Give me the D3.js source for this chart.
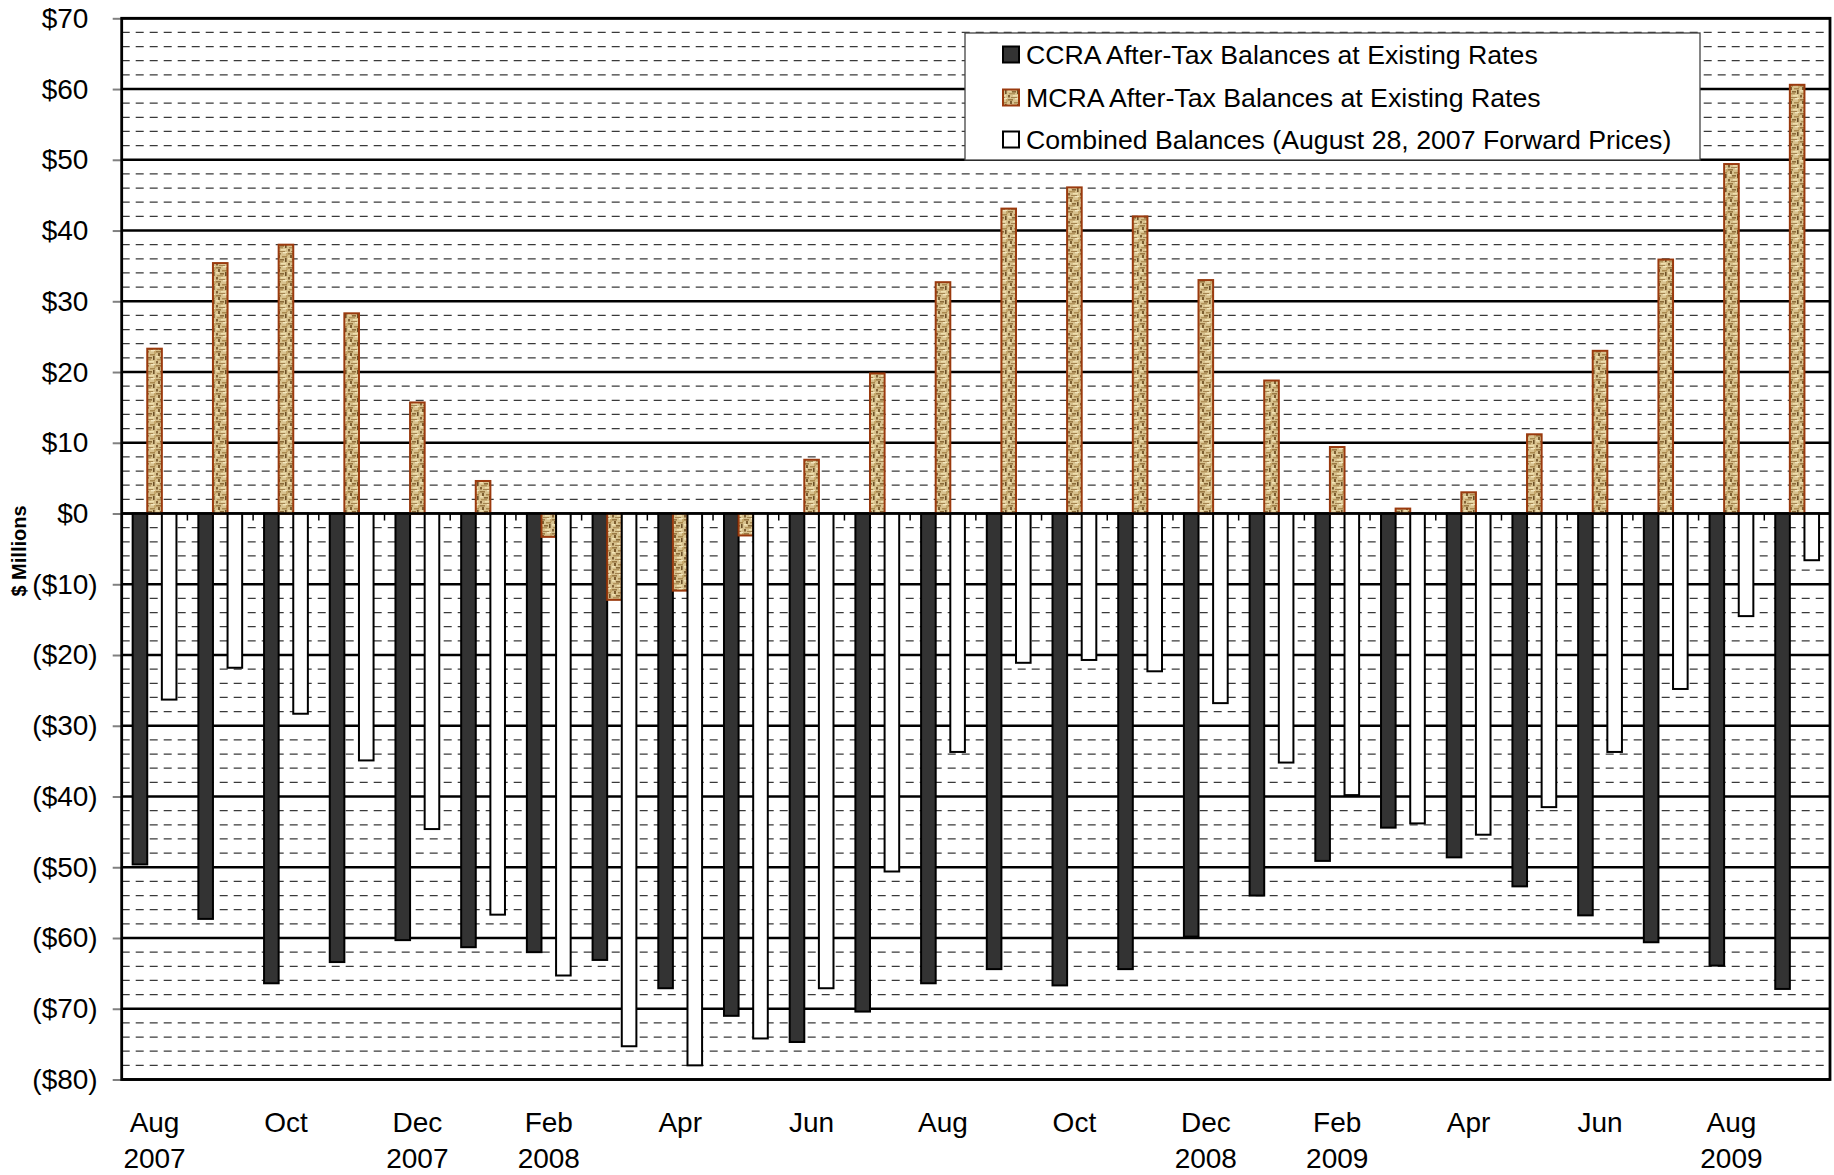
<!DOCTYPE html>
<html>
<head>
<meta charset="utf-8">
<script src="https://cdn.jsdelivr.net/npm/d3@7"></script>
<style>
  html, body { margin: 0; padding: 0; background: #fff; }
  svg { display: block; font-family: "Liberation Sans", Arial, sans-serif; }
</style>
</head>
<body>
<svg id="chart" width="1834" height="1175"></svg>
<script>
// ---- Data ----
const categories = ["Aug 2007","Sep 2007","Oct 2007","Nov 2007","Dec 2007","Jan 2008","Feb 2008","Mar 2008","Apr 2008","May 2008","Jun 2008","Jul 2008","Aug 2008","Sep 2008","Oct 2008","Nov 2008","Dec 2008","Jan 2009","Feb 2009","Mar 2009","Apr 2009","May 2009","Jun 2009","Jul 2009","Aug 2009","Sep 2009"];
const tickLine1 = ["Aug","","Oct","","Dec","","Feb","","Apr","","Jun","","Aug","","Oct","","Dec","","Feb","","Apr","","Jun","","Aug",""];
const tickLine2 = ["2007","","","","2007","","2008","","","","","","","","","","2008","","2009","","","","","","2009",""];
const seriesNames = ["CCRA After-Tax Balances at Existing Rates","MCRA After-Tax Balances at Existing Rates","Combined Balances (August 28, 2007 Forward Prices)"];
const ccra = [-49.6,-57.3,-66.4,-63.4,-60.3,-61.3,-62.0,-63.1,-67.1,-71.0,-74.7,-70.4,-66.4,-64.4,-66.7,-64.4,-59.8,-54.0,-49.1,-44.4,-48.6,-52.7,-56.8,-60.6,-63.9,-67.2];
const mcra = [23.3,35.4,38.0,28.3,15.7,4.6,-3.3,-12.2,-10.9,-3.1,7.6,19.8,32.7,43.1,46.1,42.0,33.0,18.8,9.4,0.7,3.0,11.2,23.0,35.9,49.4,60.6];
const combined = [-26.3,-21.8,-28.3,-34.9,-44.6,-56.7,-65.3,-75.3,-78.0,-74.2,-67.1,-50.6,-33.7,-21.1,-20.7,-22.3,-26.8,-35.2,-39.8,-43.8,-45.4,-41.5,-33.7,-24.8,-14.5,-6.6];
const yMajorTicks = [-80,-70,-60,-50,-40,-30,-20,-10,0,10,20,30,40,50,60,70];
const yMinorTicks = d3.range(-78, 70, 2).filter(v => v % 10 !== 0);
const yAxisTitle = "$ Millions";

// ---- Layout ----
const svg = d3.select("#chart");
const L = 121.7, R = 1830, T = 18.3, B = 1079.5;

const x0 = d3.scaleBand().domain(categories).range([L, R]).paddingInner(1/3).paddingOuter(1/6);
const x1 = d3.scaleBand().domain([0,1,2]).range([0, x0.bandwidth()]);
const y = d3.scaleLinear().domain([-80, 70]).range([B, T]);

// texture pattern for MCRA
const defs = svg.append("defs");
const pat = defs.append("pattern").attr("id","papyrus").attr("patternUnits","userSpaceOnUse")
  .attr("width", 12).attr("height", 14);
pat.append("rect").attr("width",12).attr("height",14).attr("fill","#d8c28e");
const specks = [
  [0,1,5,1.6,"#9b7a44"],[7,0,4,1.4,"#f3e6bd"],[2,3,2,3,"#7d5e30"],[6,4,5,1.5,"#a9894f"],
  [0,6,3,1.5,"#f1e2b4"],[4,7,4,1.6,"#8a6a38"],[9,6,1.6,4,"#6f5228"],[1,9,6,1.4,"#b2935a"],
  [0,11,2,2.5,"#836336"],[5,11,5,1.5,"#efdfaf"],[3,13,6,1,"#a48450"],[10,1,2,3,"#c5a86c"]
];
specks.forEach(s => pat.append("rect").attr("x",s[0]).attr("y",s[1]).attr("width",s[2]).attr("height",s[3]).attr("fill",s[4]));

// minor gridlines (dashed)
svg.append("g").selectAll("line").data(yMinorTicks).join("line")
  .attr("x1", L).attr("x2", R).attr("y1", d => y(d)).attr("y2", d => y(d))
  .attr("stroke", "#3a3a3a").attr("stroke-width", 1.25).attr("stroke-dasharray", "8,6");

// major gridlines
svg.append("g").selectAll("line").data(yMajorTicks).join("line")
  .attr("x1", L).attr("x2", R).attr("y1", d => y(d)).attr("y2", d => y(d))
  .attr("stroke", "#000").attr("stroke-width", 2.4);

// bars
const fills = ["#333333", "url(#papyrus)", "#ffffff"];
const strokes = ["#000", "#9a3a0e", "#000"];
const series = [ccra, mcra, combined];
series.forEach((vals, si) => {
  svg.append("g").selectAll("rect").data(vals).join("rect")
    .attr("x", (d, i) => x0(categories[i]) + x1(si))
    .attr("width", x1.bandwidth())
    .attr("y", d => y(Math.max(0, d)))
    .attr("height", d => Math.abs(y(d) - y(0)))
    .attr("fill", fills[si]).attr("stroke", strokes[si]).attr("stroke-width", 2);
});

// zero line (category axis) with tick marks at category boundaries
svg.append("line").attr("x1", L).attr("x2", R).attr("y1", y(0)).attr("y2", y(0))
  .attr("stroke", "#000").attr("stroke-width", 2.4);
const bounds = d3.range(1, categories.length).map(i => x0(categories[i]) - x0.step() * x0.paddingInner() / 2);
svg.append("g").selectAll("line").data(bounds).join("line")
  .attr("x1", d => d).attr("x2", d => d).attr("y1", y(0)).attr("y2", y(0) + 7)
  .attr("stroke", "#000").attr("stroke-width", 1.5);

// y axis
const yAxis = d3.axisLeft(y).tickValues(yMajorTicks).tickSize(9).tickPadding(15)
  .tickFormat(d => d < 0 ? "($" + Math.abs(d) + ")" : "$" + d);
const ya = svg.append("g").attr("transform", `translate(${L},0)`).call(yAxis);
ya.select(".domain").remove();
ya.selectAll(".tick line").attr("stroke", "#808080").attr("stroke-width", 2);
ya.selectAll(".tick text").attr("font-size", 28).attr("fill", "#000")
  .attr("font-family", "'Liberation Sans', Arial, sans-serif")
  .attr("dx", d => d < 0 ? 0 : -9.3);

// plot border
svg.append("rect").attr("x", L).attr("y", T).attr("width", R - L).attr("height", B - T)
  .attr("fill", "none").attr("stroke", "#000").attr("stroke-width", 2.8);

// x labels
const xl = svg.append("g").attr("font-size", 28).attr("text-anchor", "middle").attr("fill", "#000");
xl.selectAll("text.l1").data(categories).join("text").attr("class","l1")
  .attr("x", d => x0(d) + x0.bandwidth() / 2).attr("y", 1132)
  .text((d, i) => tickLine1[i]);
xl.selectAll("text.l2").data(categories).join("text").attr("class","l2")
  .attr("x", d => x0(d) + x0.bandwidth() / 2).attr("y", 1168)
  .text((d, i) => tickLine2[i]);

// y axis title
svg.append("text").attr("transform", "translate(19,551) rotate(-90)")
  .attr("text-anchor", "middle").attr("dy", "0.35em")
  .attr("font-size", 20).attr("font-weight", "bold").text(yAxisTitle);

// legend
const lg = svg.append("g");
lg.append("rect").attr("x", 965).attr("y", 33).attr("width", 735).attr("height", 127)
  .attr("fill", "#fff").attr("stroke", "#444").attr("stroke-width", 1.3);
const rowY = [55, 98, 140];
seriesNames.forEach((name, i) => {
  lg.append("rect").attr("x", 1003).attr("y", rowY[i] - 8.5).attr("width", 16).attr("height", 16)
    .attr("fill", fills[i]).attr("stroke", strokes[i]).attr("stroke-width", 2);
  lg.append("text").attr("x", 1026).attr("y", rowY[i]).attr("dy", "0.35em")
    .attr("font-size", 26.7).attr("fill", "#000").text(name);
});
</script>
</body>
</html>
